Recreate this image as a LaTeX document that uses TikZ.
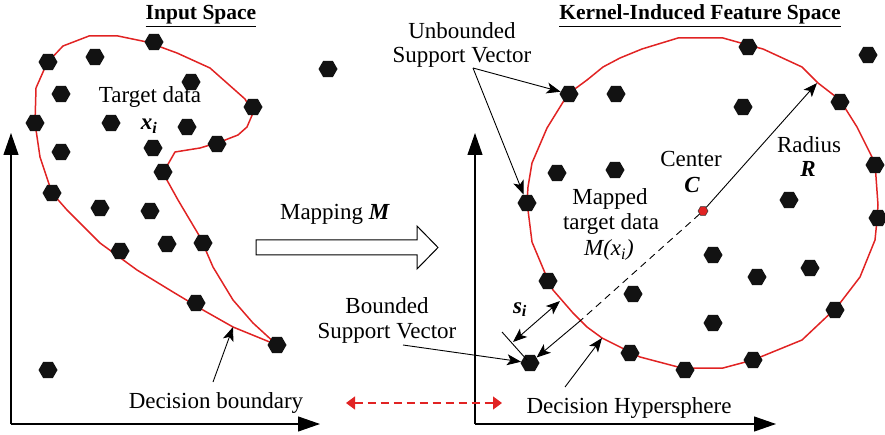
\documentclass[tikz,border=0pt]{standalone}
\usepackage{fontspec}
\setmainfont{Liberation Serif}
\usetikzlibrary{shapes.geometric,arrows.meta}
\definecolor{myred}{RGB}{225,35,35}
\begin{document}
\begin{tikzpicture}[x=1pt,y=-1pt,
  hex/.style={regular polygon, regular polygon sides=6, fill=black!93, draw=none, inner sep=0pt, minimum size=19pt},
  lbl/.style={font=\fontsize{23}{25}\selectfont, anchor=base, inner sep=0pt},
  ttl/.style={font=\fontsize{21.5}{24}\selectfont\bfseries, anchor=base, inner sep=0pt},
  lead/.style={-{Stealth[length=14pt,width=11pt,inset=3.5pt]}, line width=0.9pt},
  axis/.style={line width=1.1pt, -{Triangle[length=22pt,width=15pt]}},
  bnd/.style={draw=myred, line width=1.5pt, line join=round}]
\useasboundingbox (0,0) rectangle (885,435);

% ---------- left axes ----------
\coordinate (lo) at (11,424);
\coordinate (ly) at (11,133);
\coordinate (lx) at (320,424);
\draw[axis] (lo) -- (ly);
\draw[axis] (lo) -- (lx);

% ---------- right axes ----------
\coordinate (ro) at (475,424);
\coordinate (ry) at (475,133);
\coordinate (rx) at (776,424);
\draw[axis] (ro) -- (ry);
\draw[axis] (ro) -- (rx);

% ---------- left decision boundary ----------
\draw[bnd] (63,46) -- (89,36) -- (118,36) -- (147,42) -- (177,53) -- (210,68) -- (245,99) -- (253,113) -- (247,127) -- (238,135) -- (220,142) -- (200,148) -- (175,152) -- (163,173) -- (178,200) -- (200,237) -- (213,267) -- (233,300) -- (253,323) -- (277,345) -- (233,327) -- (203,310) -- (173,292) -- (137,270) -- (100,243) -- (67,210) -- (52,193) -- (40,157) -- (35,123) -- (36,88) -- (47,63) -- cycle;

% ---------- left data points ----------
\foreach \x/\y [count=\i] in {154/42,48/62,95/57,328/69,191/82,61/94,253/107,35/123,111/123,187/127,61/152,153/148,217/144,163/172,52/193,100/208,150/211,120/251,167/244,203/243,196/303,48/370}
  \node[hex] (l\i) at (\x,\y) {};
\node[hex] (lsv) at (277,345) {};

% ---------- right hypersphere ----------
\draw[bnd] (527,202) -- (528,187) -- (532,163) -- (547,128) -- (560,107) -- (568,94) -- (587,80) -- (603,67) -- (620,58) -- (642,49) -- (678,38) -- (723,38) -- (748,45) -- (763,49) -- (802,67) -- (818,83) -- (840,100) -- (857,127) -- (875,163) -- (878,205) -- (877,220) -- (875,240) -- (860,277) -- (837,307) -- (802,340) -- (753,360) -- (723,368) -- (692,368) -- (678,367) -- (640,357) -- (620,347) -- (602,338) -- (587,327) -- (573,313) -- (553,290) -- (545,273) -- (532,242) -- cycle;

% ---------- right data points ----------
\foreach \x/\y [count=\i] in {748/47,840/102,875/165,878/218,835/310,753/360,685/370,630/353,548/281,616/94,743/107,557/173,615/170,789/200,713/255,757/277,810/268,633/294,713/323,868/55}
  \node[hex] (r\i) at (\x,\y) {};
\node[hex] (usv1) at (569,94) {};
\node[hex] (usv2) at (527,203) {};
\node[hex] (bsv) at (530,363) {};
\node[hex, fill=myred, draw=black!80, line width=0.5pt, minimum size=10pt] (cen) at (703,211) {};

% ---------- titles ----------
\node[ttl] (t1) at (201,20) {\underline{Input Space}};
\node[ttl] (t2) at (700,20) {\underline{Kernel-Induced Feature Space}};

% ---------- left labels ----------
\node[lbl] (td) at (150,103) {Target data};
\node[lbl] (xi) at (149,130) {\bfseries\itshape x\textsubscript{i}};
\node[lbl] (db) at (216,408) {Decision boundary};
\coordinate (dba) at (213,382);
\coordinate (dbb) at (233,327);
\draw[lead] (dba) -- (dbb);

% ---------- mapping ----------
\node[lbl] (map) at (335,220) {Mapping \textbf{\textit{M}}};
\draw[line width=1pt, line join=miter] (256,240) -- (417,240) -- (417,226) -- (438,247.5) -- (417,269) -- (417,255) -- (256,255) -- cycle;

% red dashed double arrow
\coordinate (da) at (346,403);
\coordinate (dbx) at (502,403);
\draw[myred, line width=1.3pt, dash pattern=on 8pt off 5pt, {Triangle[length=9pt,width=13pt]}-{Triangle[length=9pt,width=13pt]}] (da) -- (dbx);

% ---------- right labels ----------
\node[lbl] (ub1) at (462,39) {Unbounded};
\node[lbl] (ub2) at (462,63) {Support Vector};
\coordinate (ubf) at (473,68);
\draw[lead] (ubf) -- (usv1);
\draw[lead] (ubf) -- (usv2);

\node[lbl] (ce1) at (691,167) {Center};
\node[lbl] (ce2) at (692,193) {\bfseries\itshape C};
\node[lbl] (ra1) at (809,153) {Radius};
\node[lbl] (ra2) at (808,177) {\bfseries\itshape R};
\node[lbl] (mp1) at (610,205) {Mapped};
\node[lbl] (mp2) at (611,230) {target data};
\node[lbl] (mp3) at (609,256) {\itshape M(x\textsubscript{i})};

\coordinate (rtip) at (817,83);
\draw[lead] (cen) -- (rtip);
\coordinate (pm) at (580,321);
\draw[line width=0.9pt, dash pattern=on 7pt off 5pt] (cen) -- (pm);
\draw[lead] (pm) -- (bsv);

\node[lbl] (bs1) at (387,313) {Bounded};
\node[lbl] (bs2) at (387,338) {Support Vector};
\coordinate (bsf) at (403,345);
\draw[lead] (bsf) -- (bsv);

\node[lbl] (si) at (520,313) {\bfseries\itshape s\textsubscript{i}};
\coordinate (sa) at (513,342);
\coordinate (sb) at (560,301);
\draw[line width=0.9pt, {Stealth[length=14pt,width=11pt,inset=3.5pt]}-{Stealth[length=14pt,width=11pt,inset=3.5pt]}] (sa) -- (sb);
\coordinate (ta) at (502,332);
\coordinate (tb) at (527,360);
\draw[line width=0.9pt] (ta) -- (tb);

\node[lbl] (dh) at (629,413) {Decision Hypersphere};
\coordinate (dha) at (565,387);
\coordinate (dhb) at (602,338);
\draw[lead] (dha) -- (dhb);
\end{tikzpicture}
\end{document}
